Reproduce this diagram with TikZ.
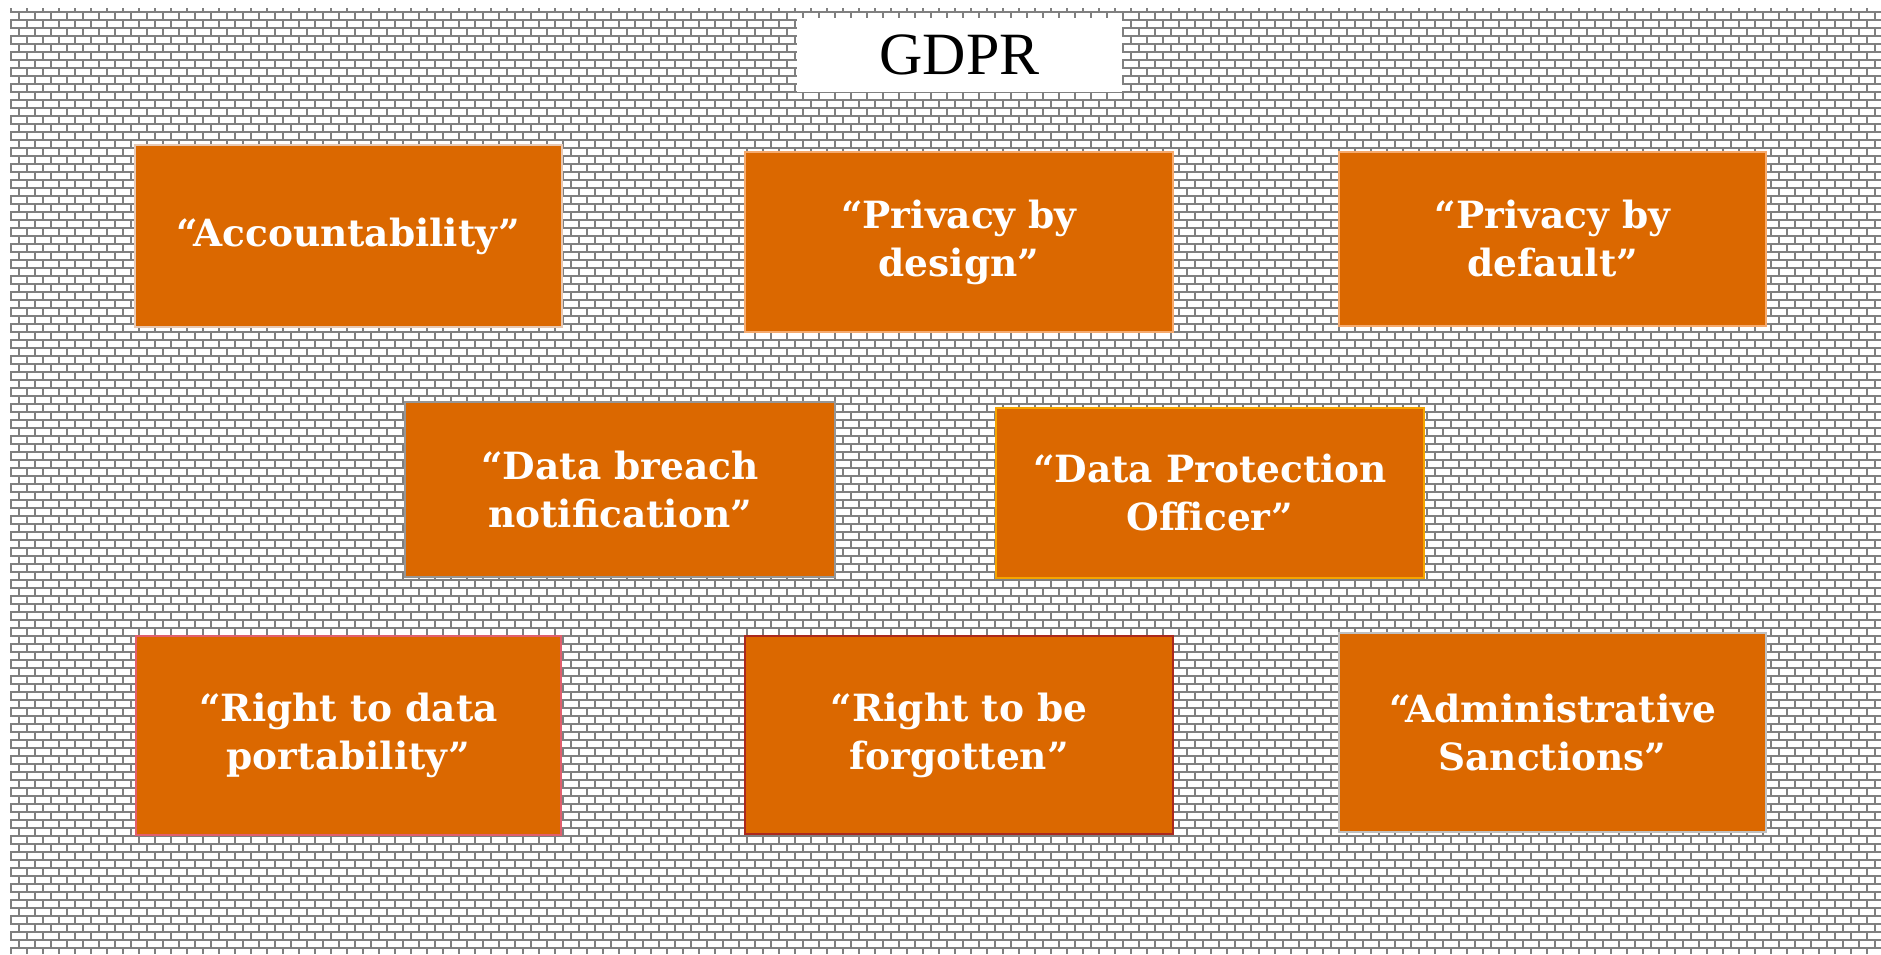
\documentclass[tikz,border=0pt]{standalone}
\usepackage{fontspec}
\setmainfont{Liberation Serif}
\newfontfamily\boxfont{DejaVu Serif}
\definecolor{brickline}{RGB}{128,128,128}
\definecolor{gdprorange}{RGB}{219,104,0}
\definecolor{edgelight}{RGB}{245,170,110}
\definecolor{edgegray}{RGB}{150,150,150}
\definecolor{edgegold}{RGB}{245,165,0}
\definecolor{edgered}{RGB}{170,40,30}
\definecolor{edgepink}{RGB}{225,95,110}
\definecolor{edgepale}{RGB}{230,200,180}
\tikzset{
  gbox/.style={fill=gdprorange, text=white, align=center, inner sep=0pt,
    line width=0.5pt, font=\boxfont\bfseries\fontsize{15}{19.2}\selectfont},
  titlebox/.style={fill=white, text=black, inner sep=0pt,
    font=\fontsize{24}{28}\selectfont},
  brick/.style={draw=brickline, line width=0.8pt}
}
\begin{document}
\begin{tikzpicture}[x=0.4pt,y=-0.4pt]
\useasboundingbox (0,0) rectangle (1881,954);
\fill[white] (0,0) rectangle (1881,954);
\begin{scope}
\clip (10,8) rectangle (1881,954);
\foreach \k in {0,...,117}{
  \draw[brick] (10,12+8*\k) -- (1881,12+8*\k);
}
\foreach \j in {0,...,117}{
  \draw[brick, dash pattern=on 3.2pt off 3.2pt, dash phase=1.6pt] (11+16*\j,8) -- (11+16*\j,954);
  \draw[brick, dash pattern=on 3.2pt off 3.2pt, dash phase=4.8pt] (19+16*\j,8) -- (19+16*\j,954);
}
\end{scope}
\node[titlebox, minimum width=130pt, minimum height=29.6pt] (title) at (959.5,55) {GDPR};
\node[gbox, draw=edgepale, minimum width=170.8pt, minimum height=72.8pt] (acc) at (348.5,236) {“Accountability”};
\node[gbox, draw=edgelight, minimum width=171.2pt, minimum height=72pt] (pbdes) at (959,242) {“Privacy by\\design”};
\node[gbox, draw=edgelight, minimum width=170.8pt, minimum height=69.6pt] (pbdef) at (1552.5,239) {“Privacy by\\default”};
\node[gbox, draw=edgegray, minimum width=172pt, minimum height=70pt] (breach) at (620,489.5) {“Data breach\\notification”};
\node[gbox, draw=edgegold, minimum width=171.2pt, minimum height=68pt] (dpo) at (1210,493) {“Data Protection\\Officer”};
\node[gbox, draw=edgepink, minimum width=170pt, minimum height=79.6pt] (port) at (348.5,735.5) {“Right to data\\portability”};
\node[gbox, draw=edgered, minimum width=171.2pt, minimum height=79.2pt] (forg) at (959,735) {“Right to be\\forgotten”};
\node[gbox, draw=edgegray!60, minimum width=170.8pt, minimum height=79.6pt] (sanc) at (1552.5,732.5) {“Administrative\\Sanctions”};
\end{tikzpicture}
\end{document}
